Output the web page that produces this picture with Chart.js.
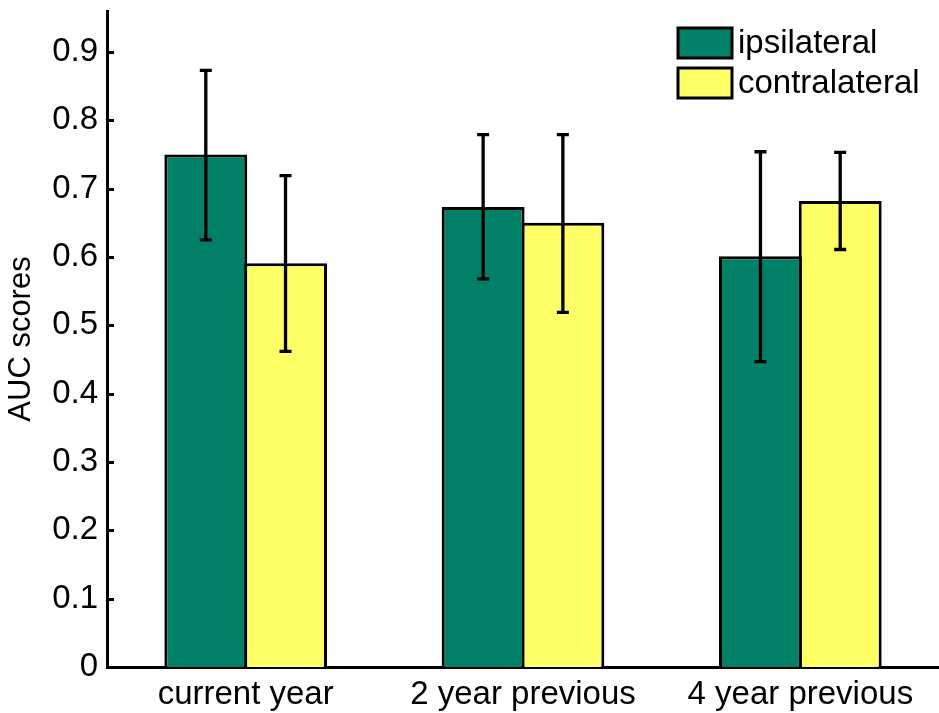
<!DOCTYPE html>
<html>
<head>
<meta charset="utf-8">
<script src="https://cdn.jsdelivr.net/npm/chart.js@4/dist/chart.umd.min.js"></script>
<style>
  html, body { margin: 0; padding: 0; background: #fff; }
  #wrap { width: 939px; height: 713px; }
</style>
</head>
<body>
<div id="wrap"><canvas id="c" width="939" height="713"></canvas></div>
<script>
// Categories and series
const categories = ['current year', '2 year previous', '4 year previous'];
const seriesNames = ['ipsilateral', 'contralateral'];
const ipsilateral = [0.75, 0.673, 0.601];
const contralateral = [0.591, 0.65, 0.682];
// Error bar extents (low / high) for each series
const ipsiLow = [0.625, 0.568, 0.447];
const ipsiHigh = [0.873, 0.779, 0.754];
const contraLow = [0.462, 0.519, 0.611];
const contraHigh = [0.719, 0.779, 0.753];
// Y axis ticks
const yTicks = [0, 0.1, 0.2, 0.3, 0.4, 0.5, 0.6, 0.7, 0.8, 0.9];
const yMax = 0.96;

const FONT = '"Liberation Sans", Arial, Helvetica, sans-serif';
const GREEN = 'rgb(0,128,102)';
const YELLOW = 'rgb(255,255,102)';

const errorBars = {
  id: 'errorBars',
  afterDatasetsDraw(chart) {
    const ctx = chart.ctx;
    const y = chart.scales.y;
    ctx.save();
    ctx.strokeStyle = '#000';
    ctx.lineWidth = 3.3;
    chart.data.datasets.forEach((ds, i) => {
      const meta = chart.getDatasetMeta(i);
      meta.data.forEach((bar, j) => {
        const x = bar.x;
        const yl = y.getPixelForValue(ds.errLow[j]);
        const yh = y.getPixelForValue(ds.errHigh[j]);
        ctx.beginPath();
        ctx.moveTo(x, yl); ctx.lineTo(x, yh);
        ctx.moveTo(x - 6, yl); ctx.lineTo(x + 6, yl);
        ctx.moveTo(x - 6, yh); ctx.lineTo(x + 6, yh);
        ctx.stroke();
      });
    });
    ctx.restore();
  }
};

// Inward tick marks on the y axis and the in-plot legend
const axisExtras = {
  id: 'axisExtras',
  afterDraw(chart) {
    const ctx = chart.ctx;
    const y = chart.scales.y;
    const left = chart.chartArea.left;
    ctx.save();
    ctx.strokeStyle = '#000';
    ctx.lineWidth = 3;
    yTicks.forEach(v => {
      const py = Math.round(y.getPixelForValue(v)) + 0.5;
      if (v === 0) return;
      ctx.beginPath();
      ctx.moveTo(left, py); ctx.lineTo(left + 7, py);
      ctx.stroke();
    });
    // legend
    const items = chart.data.datasets;
    const bx = 678, by = [28, 68], bw = 54, bh = 30;
    ctx.font = '33px ' + FONT;
    ctx.textBaseline = 'middle';
    ctx.textAlign = 'left';
    items.forEach((ds, i) => {
      ctx.fillStyle = ds.backgroundColor;
      ctx.fillRect(bx, by[i], bw, bh);
      ctx.lineWidth = 3;
      ctx.strokeStyle = '#000';
      ctx.strokeRect(bx, by[i], bw, bh);
      ctx.fillStyle = '#000';
      ctx.fillText(ds.label, bx + bw + 6, by[i] + bh / 2 + 1);
    });
    ctx.restore();
  }
};

new Chart(document.getElementById('c'), {
  type: 'bar',
  data: {
    labels: categories,
    datasets: [
      { label: seriesNames[0], data: ipsilateral, errLow: ipsiLow, errHigh: ipsiHigh,
        backgroundColor: GREEN, borderColor: '#000', borderWidth: 3, borderSkipped: 'bottom' },
      { label: seriesNames[1], data: contralateral, errLow: contraLow, errHigh: contraHigh,
        backgroundColor: YELLOW, borderColor: '#000', borderWidth: 3, borderSkipped: 'bottom' }
    ]
  },
  options: {
    responsive: false,
    animation: false,
    devicePixelRatio: 1,
    layout: { padding: { top: 11, left: 0, right: 0, bottom: 0 } },
    // neighbouring bars overlap slightly so they share one border line
    datasets: { bar: { categoryPercentage: 0.575, barPercentage: 1.04 } },
    plugins: { legend: { display: false }, tooltip: { enabled: false } },
    scales: {
      x: {
        grid: { display: false, drawTicks: false },
        border: { display: true, color: '#000', width: 3 },
        ticks: { color: '#000', font: { family: FONT, size: 33 }, padding: 8, maxRotation: 0 },
        afterFit(s) { s.height = 46; s.paddingLeft = 0; s.paddingRight = 0; }
      },
      y: {
        min: 0, max: yMax,
        grid: { display: false, drawTicks: false },
        border: { display: true, color: '#000', width: 3 },
        ticks: { color: '#000', font: { family: FONT, size: 33 }, padding: 9,
                 callback: v => String(v) },
        afterBuildTicks(s) { s.ticks = yTicks.map(v => ({ value: v })); },
        title: { display: true, text: 'AUC scores', color: '#000',
                 font: { family: FONT, size: 31 }, padding: { top: 3, bottom: 0 } },
        afterFit(s) { s.width = 107; s.paddingTop = 0; s.paddingBottom = 0; }
      }
    }
  },
  plugins: [errorBars, axisExtras]
});
</script>
</body>
</html>
